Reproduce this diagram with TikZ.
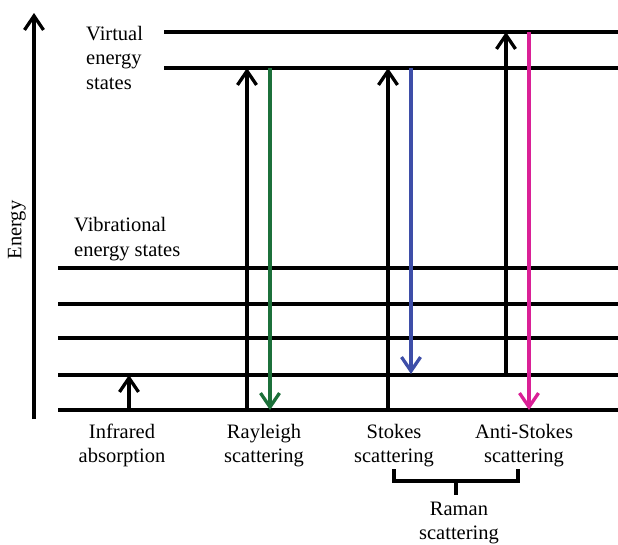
\documentclass[tikz,border=0pt]{standalone}
\usepackage{fontspec}
\setmainfont{Liberation Serif}
\usetikzlibrary{arrows.meta}
\definecolor{rayleigh}{RGB}{28,112,58}
\definecolor{stokes}{RGB}{62,78,168}
\definecolor{antistokes}{RGB}{218,32,150}
\tikzset{
  level/.style={line width=3.3pt},
  tip/.style={-{Straight Barb[length=14pt,width=19pt,line width=3.3pt]}},
  updown/.style={line width=3.3pt, tip},
  lbl/.style={font=\fontsize{20.5}{24}\selectfont, align=center, inner sep=0pt, anchor=base},
  lbll/.style={font=\fontsize{20.5}{24.5}\selectfont, align=left, inner sep=0pt, anchor=base west},
}
\begin{document}
\begin{tikzpicture}[x=1pt,y=-1pt]
\useasboundingbox (0,0) rectangle (618,544);
% energy axis
\coordinate (ax0) at (34,419);
\coordinate (ax1) at (34,13);
\draw[line width=3.6pt, tip] (ax0) -- (ax1);
\node[font=\fontsize{20.5}{24}\selectfont, rotate=90, inner sep=0pt] (energy) at (17,230) {Energy};
% virtual levels
\coordinate (v2a) at (164,32);  \coordinate (v2b) at (618,32);
\coordinate (v1a) at (164,68);  \coordinate (v1b) at (618,68);
\draw[level] (v2a) -- (v2b);
\draw[level] (v1a) -- (v1b);
% vibrational levels
\foreach \n/\y in {0/410,1/375,2/338,3/304,4/268}{
  \coordinate (g\n a) at (58,\y);
  \coordinate (g\n b) at (618,\y);
  \draw[level] (g\n a) -- (g\n b);
}
% labels
\node[lbll] (virt) at (86,89) {Virtual\\energy\\states};
\node[lbll] (vib) at (74,256) {Vibrational\\energy states};
% infrared
\coordinate (ir0) at (129,410); \coordinate (ir1) at (129,375);
\draw[updown] (ir0) -- (ir1);
% rayleigh
\coordinate (ra0) at (247,410); \coordinate (ra1) at (247,68);
\coordinate (rb0) at (270,68);  \coordinate (rb1) at (270,410);
\draw[updown] (ra0) -- (ra1);
\draw[updown, rayleigh] (rb0) -- (rb1);
% stokes
\coordinate (sa0) at (388,410); \coordinate (sa1) at (388,68);
\coordinate (sb0) at (411,68);  \coordinate (sb1) at (411,374);
\draw[updown] (sa0) -- (sa1);
\draw[updown, stokes] (sb0) -- (sb1);
% anti-stokes
\coordinate (aa0) at (506,375); \coordinate (aa1) at (506,32);
\coordinate (ab0) at (529,32);  \coordinate (ab1) at (529,410);
\draw[updown] (aa0) -- (aa1);
\draw[updown, antistokes] (ab0) -- (ab1);
% bottom labels
\node[lbl] (irl) at (122,462) {Infrared\\absorption};
\node[lbl] (ral) at (264,462) {Rayleigh\\scattering};
\node[lbl] (stl) at (394,462) {Stokes\\scattering};
\node[lbl] (asl) at (524,462) {Anti-Stokes\\scattering};
% bracket
\coordinate (bl) at (394,469); \coordinate (br) at (518,469);
\coordinate (bc) at (456,481); \coordinate (bs) at (456,495);
\draw[line width=3.3pt] (bl) |- (bc) -| (br);
\draw[line width=3.3pt] (bc) -- (bs);
\node[lbl] (raman) at (459,539) {Raman\\scattering};
\end{tikzpicture}
\end{document}
